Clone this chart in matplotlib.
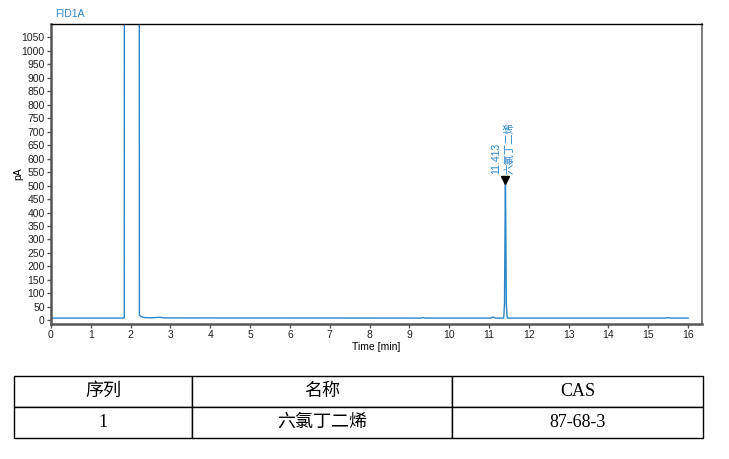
import matplotlib
matplotlib.use('Agg')
import matplotlib.pyplot as plt

plt.rcParams['font.family'] = ['Liberation Sans', 'Noto Sans CJK SC', 'DejaVu Sans']

# chromatogram trace (time in min, signal in pA)
temps = [0.0, 1.80, 1.84, 1.85, 2.21, 2.22, 2.25, 2.35, 2.50, 2.65, 2.72, 2.85,
         9.30, 9.35, 9.40, 11.05, 11.10, 11.15, 11.37, 11.39, 11.405, 11.413,
         11.42, 11.435, 11.46, 15.45, 15.50, 15.55, 16.0]
signal = [8.0, 8.0, 9.0, 5000.0, 5000.0, 20.0, 14.0, 10.0, 9.0, 10.0, 11.0, 8.5,
          8.0, 10.0, 8.0, 8.0, 12.0, 8.0, 8.0, 60.0, 380.0, 521.0,
          400.0, 60.0, 8.0, 8.0, 10.0, 8.0, 8.0]

pic_temps = 11.413
pic_hauteur = 521.0
pic_nom = '六氯丁二烯'

# table
entetes = ['序列', '名称', 'CAS']
lignes = [['1', '六氯丁二烯', '87-68-3']]

bleu = '#2a86c8'

fig = plt.figure(figsize=(7.29, 4.59), dpi=100)
ax = fig.add_axes([51 / 729, 1 - 324 / 459, 651 / 729, 300 / 459])

ax.plot(temps, signal, color=bleu, linewidth=1.0)
ax.plot([pic_temps], [pic_hauteur], marker='v', color='black', markersize=6,
        linestyle='none', zorder=5)
ax.text(pic_temps - 0.22, pic_hauteur + 22, f'{pic_temps:.3f}', rotation=90,
        color=bleu, fontsize=7.5, ha='center', va='bottom')
ax.text(pic_temps + 0.1, pic_hauteur + 22, pic_nom, rotation=90,
        color=bleu, fontsize=7.5, ha='center', va='bottom',
        family=['Noto Sans CJK SC', 'DejaVu Sans'])

ax.set_xlim(0, 16.35)
ax.set_ylim(-14, 1100)
ax.set_xticks(range(0, 17))
ax.set_yticks(range(0, 1051, 50))
ax.tick_params(axis='both', labelsize=7.5, length=3, width=1, color='#555555',
               labelcolor='#222222', pad=1.5, direction='out')
ax.set_xlabel('Time [min]', fontsize=7.5, labelpad=1)
ax.set_ylabel('pA', fontsize=7.5)
ax.yaxis.set_label_coords(-0.043, 0.5)

for cote in ['left', 'bottom']:
    ax.spines[cote].set_color('#555555')
    ax.spines[cote].set_linewidth(1.8)
ax.spines['right'].set_color('#666666')
ax.spines['right'].set_linewidth(1.2)
ax.spines['top'].set_color('black')
ax.spines['top'].set_linewidth(1.0)

fig.text(55 / 729, 1 - 14 / 459, 'FID1A', color=bleu, fontsize=7.5,
         ha='left', va='center')

ax_tab = fig.add_axes([14 / 729, 1 - 438 / 459, 689 / 729, 62 / 459])
ax_tab.axis('off')
tableau = ax_tab.table(cellText=lignes, colLabels=entetes,
                       colWidths=[178, 260, 251], cellLoc='center',
                       bbox=[0, 0, 1, 1])
tableau.auto_set_font_size(False)
for (r, c), cellule in tableau.get_celld().items():
    cellule.set_linewidth(1.0)
    cellule.set_edgecolor('black')
    cellule.get_text().set_fontsize(13)
    cellule.get_text().set_family(['Liberation Serif', 'Noto Sans CJK SC'])

fig.savefig('out.png', dpi=100)
